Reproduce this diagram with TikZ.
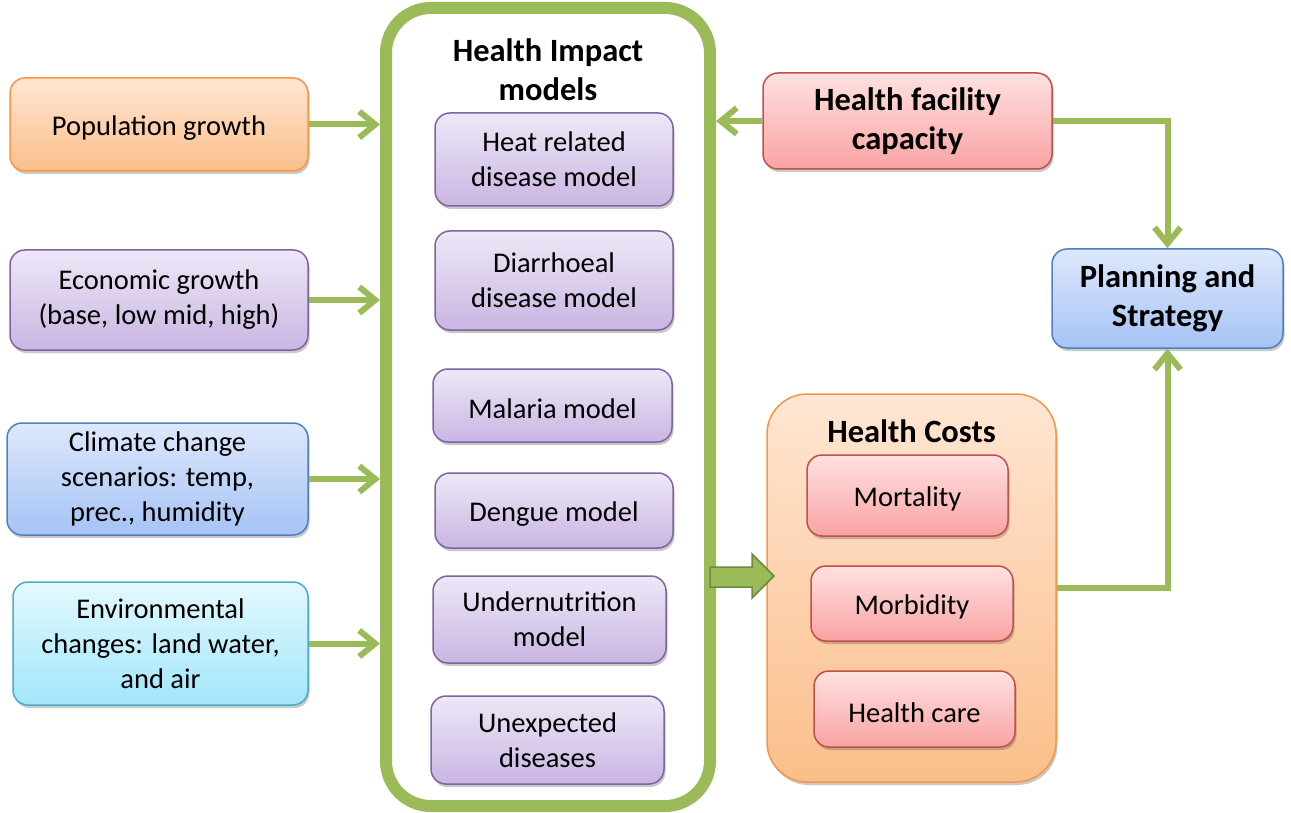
\documentclass[tikz,border=0pt]{standalone}
\usepackage{fontspec}
\setmainfont{Carlito}
\usetikzlibrary{arrows.meta,shadows}

\definecolor{linegreen}{HTML}{9BBB59}
\definecolor{darkgreen}{HTML}{71893F}
\definecolor{purpleline}{HTML}{8064A2}
\definecolor{purpletop}{HTML}{EEE8F7}
\definecolor{purplebot}{HTML}{C9B5E2}
\definecolor{orangeline}{HTML}{F79646}
\definecolor{orangetop}{HTML}{FFE6D3}
\definecolor{orangebot}{HTML}{FBBE8A}
\definecolor{redline}{HTML}{C0504D}
\definecolor{redtop}{HTML}{FFE1E1}
\definecolor{redbot}{HTML}{F9A3A3}
\definecolor{blueline}{HTML}{4F81BD}
\definecolor{bluetop}{HTML}{DEE8FC}
\definecolor{bluebot}{HTML}{A5C3F5}
\definecolor{cyanline}{HTML}{4BACC6}
\definecolor{cyantop}{HTML}{E4F9FE}
\definecolor{cyanbot}{HTML}{A1E6FA}

\newcommand{\boxfont}{\fontsize{28.5}{35}\selectfont}
\newcommand{\headfont}{\fontsize{32.5}{39}\selectfont\bfseries}

\begin{document}
\begin{tikzpicture}[
        x = 1pt,
        y = -1pt,
        box/.style = {rounded corners = 15pt, line width = 1.5pt, align = center,
            font = \boxfont, inner sep = 0pt,
            execute at begin node = {\rule{0pt}{27pt}},
            drop shadow = {shadow xshift = 1.5pt, shadow yshift = -3pt,
                opacity = .3, fill = black!70}},
        purplebox/.style = {box, draw = purpleline, top color = purpletop, bottom color = purplebot},
        orangebox/.style = {box, draw = orangeline, top color = orangetop, bottom color = orangebot},
        redbox/.style = {box, draw = redline, top color = redtop, bottom color = redbot},
        bluebox/.style = {box, draw = blueline, top color = bluetop, bottom color = bluebot},
        cyanbox/.style = {box, draw = cyanline, top color = cyantop, bottom color = cyanbot},
        headtext/.style = {align = center, font = \headfont, inner sep = 0pt},
        arr/.style = {draw = linegreen, line width = 6pt,
            -{Straight Barb[length = 16pt, width = 26pt]}}
    ]
        \useasboundingbox (0, 0) rectangle (1291, 813);

        % health impact models
        \node (him) at (548, 407) [draw = linegreen, line width = 12pt, fill = white,
            rounded corners = 45pt, minimum width = 324pt, minimum height = 798pt] {};
        \node (himtitle) at (548, 70) [headtext] {Health Impact\\models};
        \node (heat) at (554, 159.5) [purplebox, minimum width = 238pt, minimum height = 93pt]
            {Heat related\\disease model};
        \node (diarr) at (554, 280.5) [purplebox, minimum width = 238pt, minimum height = 99pt]
            {Diarrhoeal\\disease model};
        \node (malaria) at (552.5, 405.5) [purplebox, minimum width = 239pt, minimum height = 73pt]
            {Malaria model};
        \node (dengue) at (554, 510.5) [purplebox, minimum width = 238pt, minimum height = 75pt]
            {Dengue model};
        \node (undernut) at (549.5, 619.5) [purplebox, minimum width = 233pt, minimum height = 87pt]
            {Undernutrition\\model};
        \node (unexp) at (547.5, 740) [purplebox, minimum width = 233pt, minimum height = 88pt]
            {Unexpected\\diseases};

        % drivers
        \node (pop) at (159, 124.5) [orangebox, minimum width = 298pt, minimum height = 93pt]
            {Population growth};
        \node (econ) at (159, 300) [purplebox, minimum width = 298pt, minimum height = 100pt]
            {Economic growth\\(base, low mid, high)};
        \node (clim) at (157.5, 479) [bluebox, minimum width = 301pt, minimum height = 112pt]
            {Climate change\\scenarios: temp,\\prec., humidity};
        \node (env) at (160.5, 643.5) [cyanbox, minimum width = 295pt, minimum height = 123pt]
            {Environmental\\changes: land water,\\and air};

        % health costs
        \node (hc) at (911.5, 588) [orangebox, rounded corners = 40pt,
            minimum width = 289pt, minimum height = 388pt] {};
        \node (hctitle) at (911.5, 431) [headtext] {Health Costs};
        \node (mort) at (907.5, 495.5) [redbox, minimum width = 201pt, minimum height = 81pt]
            {Mortality};
        \node (morb) at (912, 603.5) [redbox, minimum width = 202pt, minimum height = 75pt]
            {Morbidity};
        \node (care) at (914.5, 709) [redbox, minimum width = 201pt, minimum height = 76pt]
            {Health care};

        \node (hfc) at (907.5, 121) [redbox, font = \headfont, minimum width = 289pt,
            minimum height = 96pt] {Health facility\\capacity};
        \node (plan) at (1167.5, 298.5) [bluebox, font = \headfont, minimum width = 231pt,
            minimum height = 99pt] {Planning and\\Strategy};

        % connectors
        \draw[arr] (pop.east) -- (pop.east -| him.west);
        \draw[arr] (econ.east) -- (econ.east -| him.west);
        \draw[arr] (clim.east) -- (clim.east -| him.west);
        \draw[arr] (env.east) -- (env.east -| him.west);
        \draw[arr] (hfc.west) -- (hfc.west -| him.east);
        \draw[arr] (hfc.east) -| (plan.north);
        \draw[arr] (hc.east) -| (plan.south);

        % block arrow into the costs
        \draw[draw = darkgreen, fill = linegreen, line width = 1.5pt]
            (710, 567) -- (752, 567) -- (752, 554) -- (774, 576)
            -- (752, 598) -- (752, 587) -- (710, 587) -- cycle;
    \end{tikzpicture}
\end{document}
